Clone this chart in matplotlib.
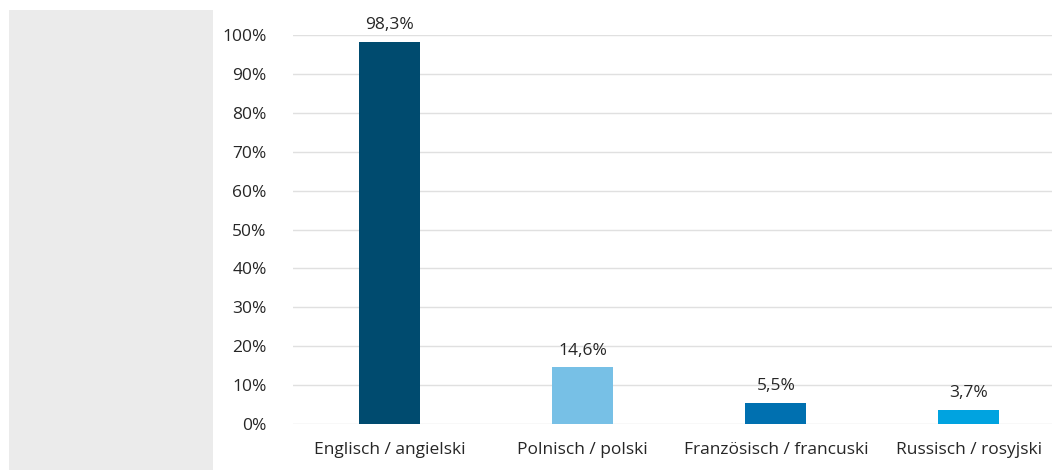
import matplotlib
matplotlib.use("Agg")
import matplotlib.pyplot as plt
from matplotlib.patches import Rectangle
from matplotlib.ticker import FuncFormatter

# Daten
categories = ["Englisch / angielski", "Polnisch / polski",
              "Französisch / francuski", "Russisch / rosyjski"]
values = [98.3, 14.6, 5.5, 3.7]
labels = ["98,3%", "14,6%", "5,5%", "3,7%"]
colors = ["#004B6F", "#77C0E6", "#0070B0", "#00A3E0"]

plt.rcParams["font.family"] = ["Open Sans", "DejaVu Sans"]

fig = plt.figure(figsize=(10.52, 4.71), dpi=100)

# grauer Kasten links
fig.patches.append(Rectangle((9 / 1052, 1 - 470 / 471), 204 / 1052, 460 / 471,
                             transform=fig.transFigure, facecolor="#EBEBEB",
                             edgecolor="none", zorder=0))

ax = fig.add_axes([293 / 1052, 1 - 424 / 471, 759 / 1052, 389 / 471])
x = range(len(categories))
ax.bar(x, values, width=0.316, color=colors, zorder=3)
for i, v in enumerate(values):
    ax.text(i, v + 2.2, labels[i], ha="center", va="bottom", fontsize=12.5, color="#262626")

ax.set_ylim(0, 100)
ax.set_xlim(-0.5, 3.43)
ax.set_yticks(range(0, 101, 10))
ax.yaxis.set_major_formatter(FuncFormatter(lambda v, p: f"{int(v)}%"))
ax.set_xticks(list(x))
ax.set_xticklabels(categories)
ax.tick_params(axis="both", length=0, labelsize=12.5, colors="#262626")
ax.tick_params(axis="x", pad=13)
ax.tick_params(axis="y", pad=19)
ax.yaxis.grid(True, color="#E0E0E0", linewidth=1, zorder=0)
ax.set_axisbelow(True)
for s in ax.spines.values():
    s.set_visible(False)
ax.patch.set_alpha(0)

fig.savefig("out.png", dpi=100)
